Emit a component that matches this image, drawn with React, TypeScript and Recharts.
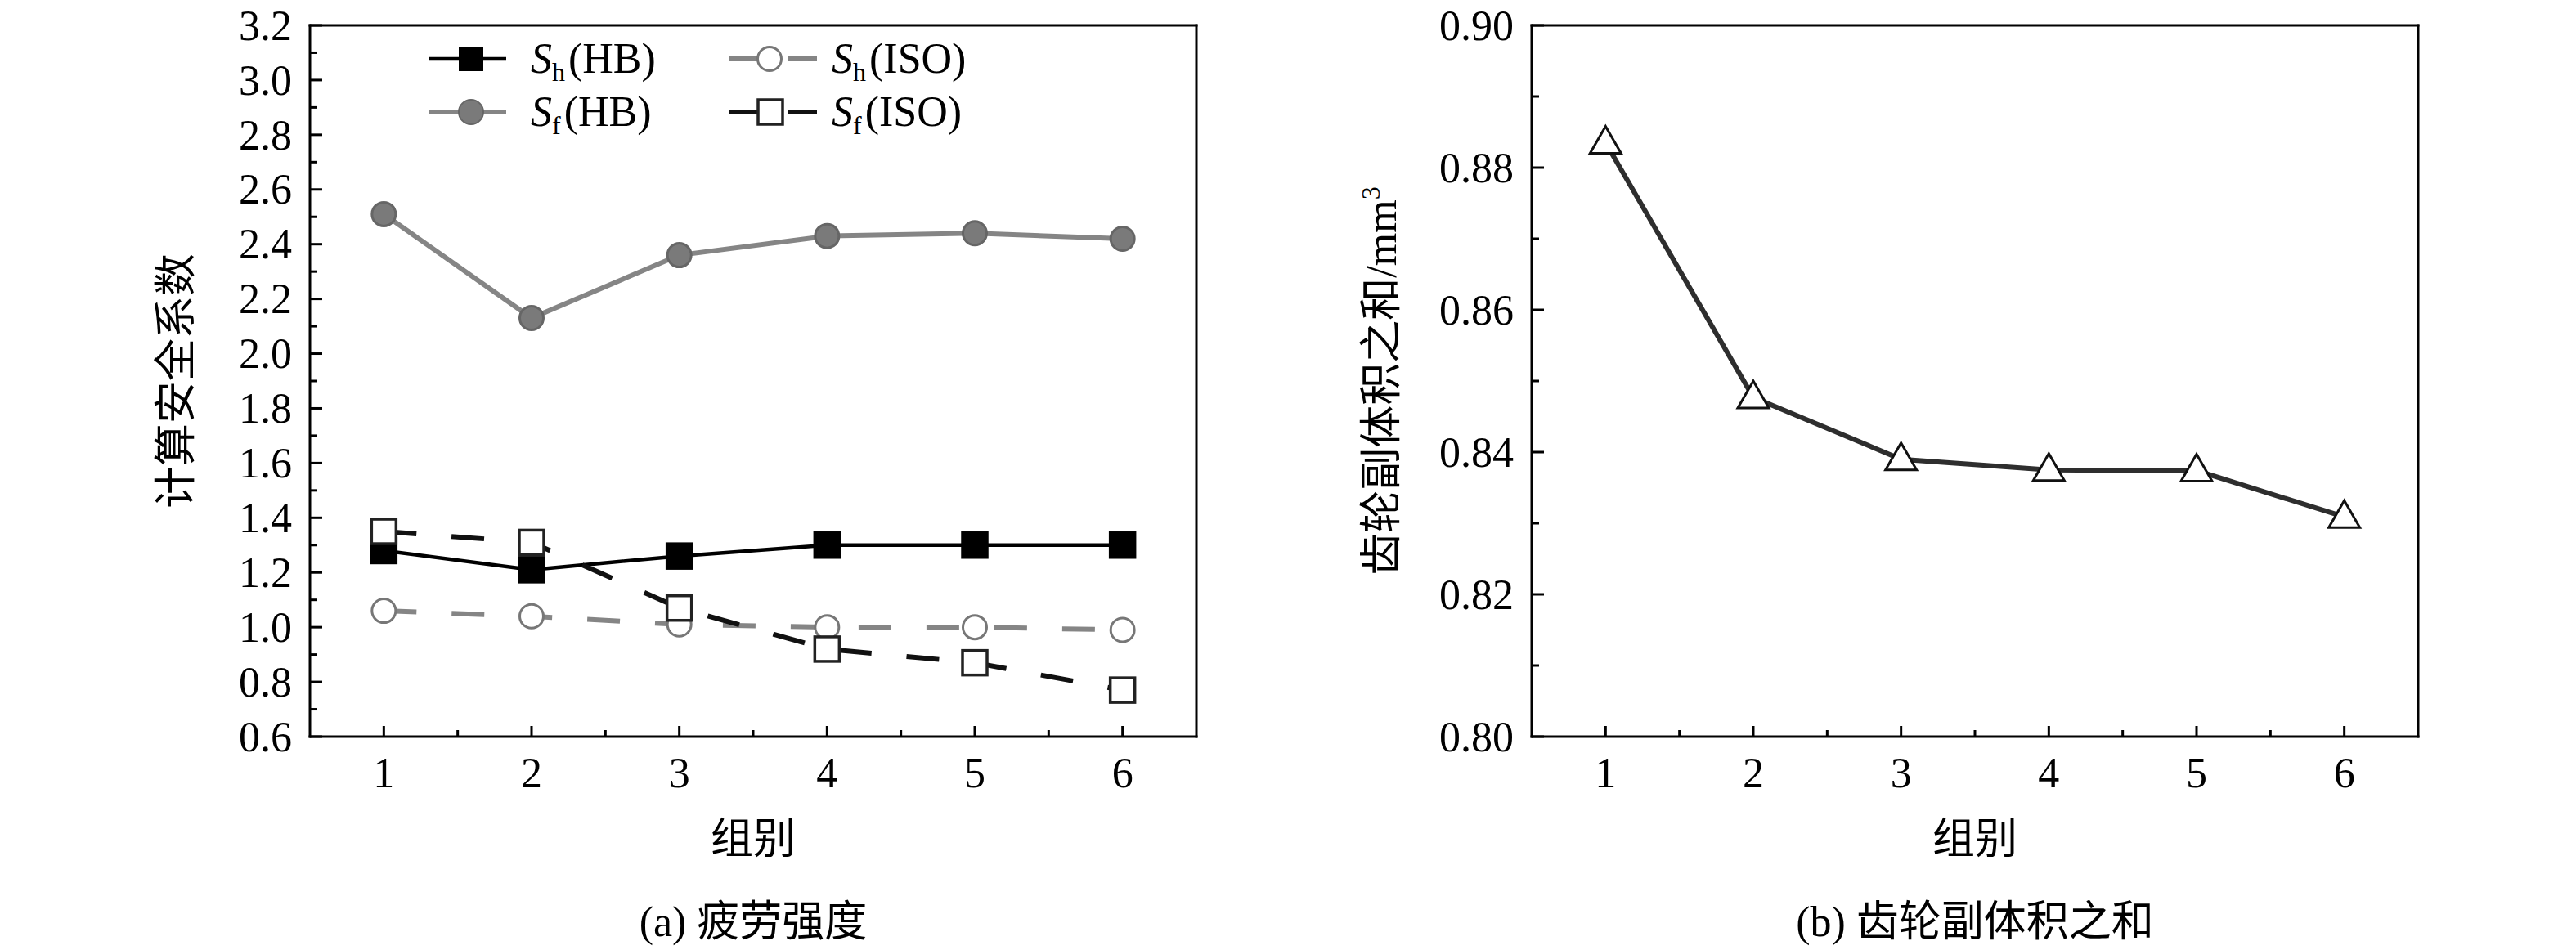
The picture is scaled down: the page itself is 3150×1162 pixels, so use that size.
import React from "react";
import { LineChart, Line, XAxis, YAxis, Legend } from "recharts";

// data
const groups = [1, 2, 3, 4, 5, 6];
const shHB = [1.28, 1.21, 1.26, 1.3, 1.3, 1.3];
const sfHB = [2.51, 2.13, 2.36, 2.43, 2.44, 2.42];
const shISO = [1.06, 1.04, 1.01, 1.0, 1.0, 0.99];
const sfISO = [1.35, 1.31, 1.07, 0.92, 0.87, 0.77];
const volume = [0.8835, 0.8477, 0.839, 0.8375, 0.8374, 0.8309];

const xTicks = [1, 1.5, 2, 2.5, 3, 3.5, 4, 4.5, 5, 5.5, 6];
const leftYTicks = [
  0.6, 0.7, 0.8, 0.9, 1.0, 1.1, 1.2, 1.3, 1.4, 1.5, 1.6, 1.7, 1.8, 1.9, 2.0,
  2.1, 2.2, 2.3, 2.4, 2.5, 2.6, 2.7, 2.8, 2.9, 3.0, 3.1, 3.2,
];
const rightYTicks = [0.8, 0.81, 0.82, 0.83, 0.84, 0.85, 0.86, 0.87, 0.88, 0.89, 0.9];

const legendItems = [
  { key: "shHB", sub: "h", tag: "(HB)" },
  { key: "shISO", sub: "h", tag: "(ISO)" },
  { key: "sfHB", sub: "f", tag: "(HB)" },
  { key: "sfISO", sub: "f", tag: "(ISO)" },
];

const leftData = groups.map((g, i) => ({
  group: g,
  shHB: shHB[i],
  sfHB: sfHB[i],
  shISO: shISO[i],
  sfISO: sfISO[i],
}));
const rightData = groups.map((g, i) => ({ group: g, volume: volume[i] }));

const SERIF = "'Liberation Serif', 'Times New Roman', serif";
const MIXED = "'Liberation Serif', 'Noto Sans CJK SC', serif";
const FS = 52;
const GAP = 22;
const GRAY = "#858585";

const makeYTick = (decimals: number) => (props: any) => {
  const { x, y, payload, index } = props;
  const v = payload.value;
  const major = Math.round(v * Math.pow(10, decimals)) % 2 === 0;
  const ax = x + GAP;
  return (
    <g key={index}>
      <line x1={ax} y1={y} x2={ax + (major ? 15 : 9)} y2={y} stroke="#000" strokeWidth={3} />
      {major && (
        <text x={x} y={y} dy="0.34em" textAnchor="end" fontFamily={SERIF} fontSize={FS} fill="#000">
          {v.toFixed(decimals)}
        </text>
      )}
    </g>
  );
};

const XTick = (props: any) => {
  const { x, y, payload, index } = props;
  const v = payload.value;
  const major = Number.isInteger(v);
  return (
    <g key={index}>
      <line x1={x} y1={y} x2={x} y2={y - (major ? 13 : 8)} stroke="#000" strokeWidth={3} />
      {major && (
        <text x={x} y={y + 62} textAnchor="middle" fontFamily={SERIF} fontSize={FS} fill="#000">
          {v}
        </text>
      )}
    </g>
  );
};

const squareDot = (fill: string, stroke: string) => (p: any) => (
  <rect key={p.index} x={p.cx - 15} y={p.cy - 15} width={30} height={30} fill={fill} stroke={stroke} strokeWidth={3.5} />
);
const circleDot = (fill: string, stroke: string) => (p: any) => (
  <circle key={p.index} cx={p.cx} cy={p.cy} r={14.5} fill={fill} stroke={stroke} strokeWidth={3} />
);
const triangleDot = (p: any) => (
  <path
    key={p.index}
    d={`M${p.cx},${p.cy - 20} L${p.cx + 19},${p.cy + 13} L${p.cx - 19},${p.cy + 13} Z`}
    fill="#fff"
    stroke="#111"
    strokeWidth={3}
  />
);

function Sample({ k }: { k: string }) {
  if (k === "shHB")
    return (
      <g>
        <line x1={0} y1={0} x2={94} y2={0} stroke="#000" strokeWidth={4.5} />
        <rect x={36} y={-15} width={30} height={30} fill="#000" />
      </g>
    );
  if (k === "sfHB")
    return (
      <g>
        <line x1={0} y1={0} x2={94} y2={0} stroke={GRAY} strokeWidth={6} />
        <circle cx={51} cy={0} r={15} fill="#7a7a7a" stroke="#666" strokeWidth={2} />
      </g>
    );
  if (k === "shISO")
    return (
      <g>
        <line x1={0} y1={0} x2={36} y2={0} stroke={GRAY} strokeWidth={6} />
        <line x1={72} y1={0} x2={108} y2={0} stroke={GRAY} strokeWidth={6} />
        <circle cx={50} cy={0} r={14.5} fill="#fff" stroke="#777" strokeWidth={3} />
      </g>
    );
  return (
    <g>
      <line x1={0} y1={0} x2={36} y2={0} stroke="#111" strokeWidth={6} />
      <line x1={72} y1={0} x2={108} y2={0} stroke="#111" strokeWidth={6} />
      <rect x={36} y={-15} width={30} height={30} fill="#fff" stroke="#222" strokeWidth={3.5} />
    </g>
  );
}

const renderLegend = () => (
  <svg width={720} height={130}>
    {legendItems.map((it, i) => {
      const col = i % 2;
      const row = Math.floor(i / 2);
      const sx = col === 0 ? 5 : 371;
      const tx = col === 0 ? 129 : 497;
      const cy = row === 0 ? 32 : 97;
      return (
        <g key={it.key}>
          <g transform={`translate(${sx},${cy})`}>
            <Sample k={it.key} />
          </g>
          <text x={tx} y={cy + 17} fontFamily={SERIF} fontSize={FS} fill="#000">
            <tspan fontStyle="italic">S</tspan>
            <tspan fontSize={32} dy={10}>
              {it.sub}
            </tspan>
            <tspan dy={-10} dx={4}>
              {it.tag}
            </tspan>
          </text>
        </g>
      );
    })}
  </svg>
);

const frame = { stroke: "#000", strokeWidth: 3, strokeLinecap: "square" as const };

const label = (x: number, y: number, rotate = false): React.CSSProperties => ({
  position: "absolute",
  left: x,
  top: y,
  transform: `translate(-50%, -50%)${rotate ? " rotate(-90deg)" : ""}`,
  whiteSpace: "nowrap",
  fontFamily: MIXED,
  fontSize: FS,
  color: "#000",
  lineHeight: 1,
});

export default function App() {
  return (
    <div style={{ position: "absolute", left: 0, top: 0, width: 3150, height: 1162, background: "#fff" }}>
      <div style={{ position: "absolute", left: 0, top: 0 }}>
        <LineChart width={1575} height={1162} data={leftData} margin={{ top: 30, right: 111, bottom: 260, left: 378 }}>
          <XAxis
            dataKey="group"
            type="number"
            domain={[0.5, 6.5]}
            ticks={xTicks}
            interval={0}
            height={1}
            tickSize={0}
            tickMargin={0}
            tickLine={false}
            axisLine={frame}
            tick={XTick}
          />
          <XAxis xAxisId="top" orientation="top" dataKey="group" type="number" domain={[0.5, 6.5]} ticks={xTicks} height={1} tick={false} tickLine={false} axisLine={frame} />
          <YAxis
            type="number"
            domain={[0.6, 3.2]}
            ticks={leftYTicks}
            interval={0}
            width={1}
            tickSize={0}
            tickMargin={GAP}
            tickLine={false}
            axisLine={frame}
            tick={makeYTick(1)}
          />
          <YAxis yAxisId="r" orientation="right" domain={[0.6, 3.2]} ticks={leftYTicks} width={1} tick={false} tickLine={false} axisLine={frame} />
          <Legend
            layout="horizontal"
            verticalAlign="middle"
            align="center"
            content={renderLegend}
            wrapperStyle={{ left: 520, top: 40, width: 720, height: 130 }}
          />
          <Line dataKey="shHB" stroke="#000" strokeWidth={4.5} dot={squareDot("#000", "#000")} activeDot={false} isAnimationActive={false} />
          <Line dataKey="sfHB" stroke={GRAY} strokeWidth={6} dot={circleDot("#7a7a7a", "#666")} activeDot={false} isAnimationActive={false} />
          <Line dataKey="shISO" stroke={GRAY} strokeWidth={6} strokeDasharray="40 43" dot={circleDot("#fff", "#777")} activeDot={false} isAnimationActive={false} />
          <Line dataKey="sfISO" stroke="#111" strokeWidth={6} strokeDasharray="40 43" dot={squareDot("#fff", "#222")} activeDot={false} isAnimationActive={false} />
        </LineChart>
      </div>

      <div style={{ position: "absolute", left: 1575, top: 0 }}>
        <LineChart width={1575} height={1162} data={rightData} margin={{ top: 30, right: 192, bottom: 260, left: 297 }}>
          <XAxis
            dataKey="group"
            type="number"
            domain={[0.5, 6.5]}
            ticks={xTicks}
            interval={0}
            height={1}
            tickSize={0}
            tickMargin={0}
            tickLine={false}
            axisLine={frame}
            tick={XTick}
          />
          <XAxis xAxisId="top" orientation="top" dataKey="group" type="number" domain={[0.5, 6.5]} ticks={xTicks} height={1} tick={false} tickLine={false} axisLine={frame} />
          <YAxis
            type="number"
            domain={[0.8, 0.9]}
            ticks={rightYTicks}
            interval={0}
            width={1}
            tickSize={0}
            tickMargin={GAP}
            tickLine={false}
            axisLine={frame}
            tick={makeYTick(2)}
          />
          <YAxis yAxisId="r" orientation="right" domain={[0.8, 0.9]} ticks={rightYTicks} width={1} tick={false} tickLine={false} axisLine={frame} />
          <Line dataKey="volume" stroke="#2e2e2e" strokeWidth={6} dot={triangleDot} activeDot={false} isAnimationActive={false} />
        </LineChart>
      </div>

      <div style={label(216, 466, true)}>计算安全系数</div>
      <div style={label(921, 1027)}>组别</div>
      <div style={label(921, 1128)}>(a) 疲劳强度</div>

      <div style={label(1690, 466, true)}>
        齿轮副体积之和/mm<span style={{ fontSize: 32, verticalAlign: "top", position: "relative", top: -4 }}>3</span>
      </div>
      <div style={label(2415, 1027)}>组别</div>
      <div style={label(2415, 1128)}>(b) 齿轮副体积之和</div>
    </div>
  );
}
